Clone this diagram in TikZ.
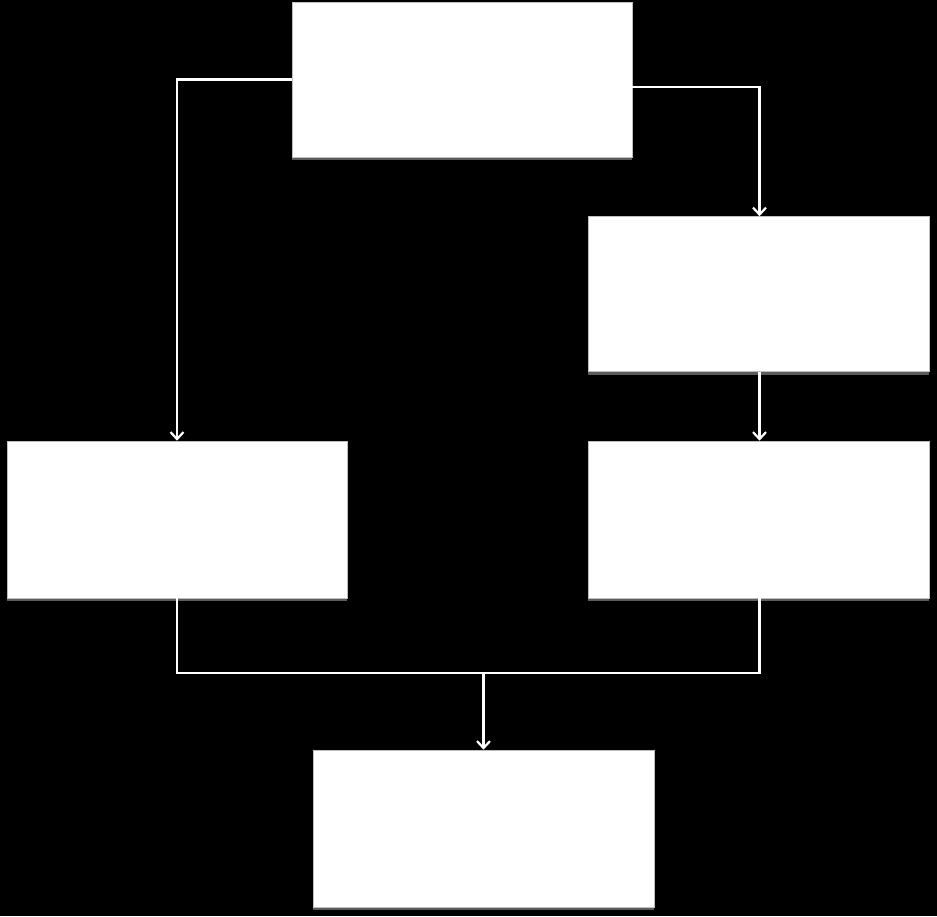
\documentclass[tikz,border=0pt]{standalone}
\usepackage{tikz}
\usetikzlibrary{arrows.meta,shadows}
\tikzset{
	box/.style={rectangle, fill=white, draw=black!25, line width=0.6pt, minimum width=340, minimum height=155, inner sep=0pt,
		drop shadow={shadow xshift=0pt, shadow yshift=-3pt, fill=black!55, opacity=0.8}},
	link/.style={draw=white, line width=2.2pt},
	arr/.style={link, -{Straight Barb[length=7pt, width=13pt, line width=2.2pt]}}
}

\begin{document}
\begin{tikzpicture}[x=1pt, y=-1pt]
		%%%%% START %%%%%
		
		\fill[black] (0, 0) rectangle (937, 916);
		\useasboundingbox (0, 0) rectangle (937, 916);
		
		\node[box] (top) at (462, 79.5) {};
		\node[box, minimum width=341] (rmid) at (758.5, 294) {};
		\node[box, minimum height=157] (left) at (177, 519.5) {};
		\node[box, minimum width=341, minimum height=157] (rlow) at (758.5, 519.5) {};
		\node[box, minimum width=341, minimum height=157] (bot) at (483.5, 828.5) {};
		
		\draw[arr] (top.west) -| (left.north);
		\draw[arr] ([yshift=-7.5pt]top.east) -| ([xshift=1pt]rmid.north);
		\draw[arr] ([xshift=1pt]rmid.south) -- ([xshift=1pt]rlow.north);
		
		\coordinate (join) at (483.5, 673);
		\draw[link] (left.south) |- (join) -| ([xshift=1pt]rlow.south);
		\draw[arr] (join) -- (bot.north);
		
		%%%%% END %%%%%
	\end{tikzpicture}
\end{document}
